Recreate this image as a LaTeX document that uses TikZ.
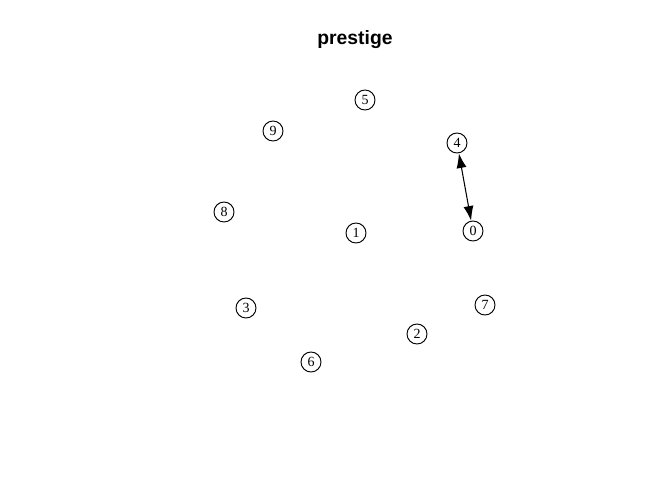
\documentclass[tikz,border=0pt]{standalone}
\usepackage{fontspec}
\setmainfont{Liberation Serif}
\newfontfamily\titlefont{Liberation Sans}
\usetikzlibrary{arrows.meta}
\begin{document}
\begin{tikzpicture}[x=0.75pt,y=-0.75pt,
  vtx/.style={circle,draw,line width=0.7pt,inner sep=0pt,minimum size=15pt,font=\fontsize{10.5}{12}\selectfont},
  edge/.style={line width=0.8pt,{Latex[length=11pt,width=7.5pt]}-{Latex[length=11pt,width=7.5pt]}}]
\useasboundingbox (0,0) rectangle (672,480);
\node[font=\titlefont\bfseries\fontsize{14.5}{16}\selectfont] (title) at (355,40) {prestige};
\node[vtx] (n5) at (365,100) {5};
\node[vtx] (n9) at (273,131) {9};
\node[vtx] (n4) at (457,143) {4};
\node[vtx] (n8) at (224,212) {8};
\node[vtx] (n1) at (356,233) {1};
\node[vtx] (n0) at (473,231) {0};
\node[vtx] (n7) at (485,305) {7};
\node[vtx] (n3) at (246,308) {3};
\node[vtx] (n2) at (417,334) {2};
\node[vtx] (n6) at (311,362) {6};
\draw[edge] (n4) -- (n0);
\end{tikzpicture}
\end{document}
